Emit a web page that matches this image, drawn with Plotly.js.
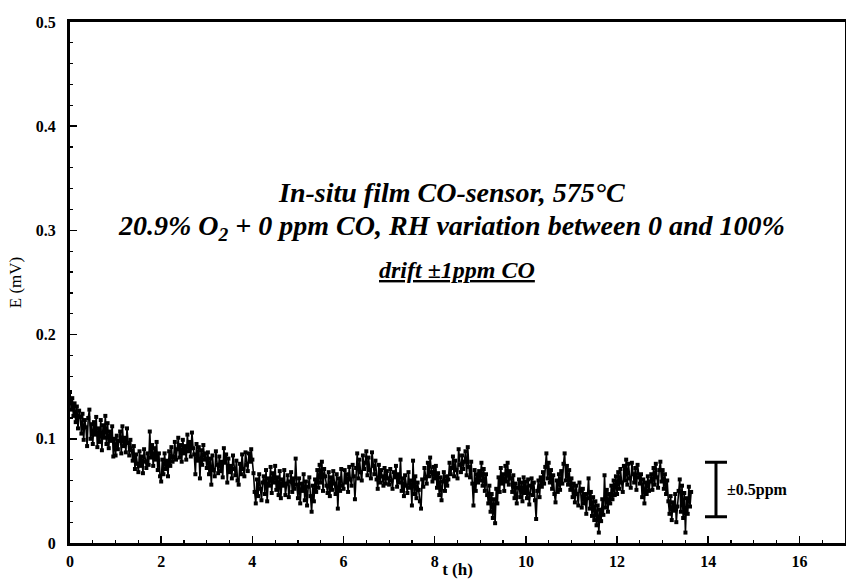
<!DOCTYPE html>
<html>
<head>
<meta charset="utf-8">
<script src="https://cdn.plot.ly/plotly-3.0.1.min.js"></script>
<style>html,body{margin:0;padding:0;background:#fff;}#chart{width:846px;height:579px;}</style>
</head>
<body>
<div id="chart"></div>
<script>
// Sampling of the recorded signal (hours)
const T_START = 0;
const T_STEP = 0.025;

// E (mV), one row per hour, 40 samples per hour
const E_h0 = [.145,.128,.139,.122,.134,.116,.131,.110,.127,.121,.105,.124,.099,.118,.111,.093,.120,.128,.100,.114,.095,.116,.104,.121,.092,.110,.097,.118,.089,.113,.101,.122,.095,.115,.091,.107,.098,.112,.083,.100];
const E_h1 = [.084,.103,.090,.098,.107,.086,.112,.093,.101,.087,.110,.096,.084,.099,.089,.079,.093,.071,.085,.076,.068,.088,.074,.083,.067,.090,.078,.072,.086,.075,.107,.082,.094,.074,.091,.080,.097,.070,.086,.064];
const E_h2 = [.059,.080,.066,.086,.071,.079,.064,.088,.074,.092,.078,.083,.097,.080,.090,.101,.082,.094,.078,.099,.086,.093,.080,.104,.088,.097,.083,.106,.091,.085,.066,.095,.079,.092,.062,.089,.075,.094,.080,.086];
const E_h3 = [.072,.087,.066,.081,.056,.084,.070,.064,.088,.075,.067,.083,.069,.078,.063,.091,.077,.085,.058,.081,.068,.074,.062,.084,.071,.065,.079,.060,.056,.076,.066,.085,.071,.064,.087,.075,.069,.086,.078,.090];
const E_h4 = [.080,.067,.049,.038,.061,.045,.066,.052,.041,.058,.064,.047,.070,.040,.062,.055,.073,.048,.067,.058,.074,.051,.063,.046,.069,.043,.061,.055,.070,.046,.057,.065,.044,.059,.068,.049,.062,.052,.081,.056];
const E_h5 = [.043,.062,.038,.057,.050,.066,.041,.059,.036,.054,.063,.045,.030,.055,.040,.061,.049,.070,.053,.075,.058,.078,.050,.071,.064,.055,.048,.068,.045,.063,.051,.069,.057,.047,.066,.033,.062,.050,.071,.055];
const E_h6 = [.052,.070,.058,.066,.049,.073,.061,.055,.075,.064,.042,.072,.086,.062,.080,.068,.060,.084,.071,.077,.088,.065,.082,.070,.062,.087,.074,.066,.079,.061,.052,.075,.058,.070,.064,.055,.072,.057,.069,.062];
const E_h7 = [.056,.071,.060,.052,.068,.063,.074,.054,.066,.058,.080,.050,.062,.045,.065,.055,.048,.068,.053,.060,.036,.079,.047,.064,.043,.058,.051,.040,.033,.061,.054,.072,.062,.057,.077,.064,.082,.068,.059,.073];
const E_h8 = [.062,.074,.053,.067,.046,.063,.041,.059,.068,.050,.064,.055,.061,.077,.066,.072,.083,.064,.079,.070,.062,.090,.075,.068,.084,.071,.078,.088,.065,.092,.073,.063,.078,.057,.036,.070,.050,.066,.058,.069];
const E_h9 = [.060,.077,.055,.071,.050,.066,.046,.038,.055,.030,.047,.024,.042,.019,.052,.038,.063,.049,.072,.057,.066,.050,.074,.059,.077,.056,.069,.062,.049,.065,.043,.057,.038,.053,.061,.044,.058,.040,.063,.048];
const E_h10 = [.059,.043,.061,.037,.055,.062,.046,.058,.041,.023,.050,.060,.044,.063,.054,.068,.057,.073,.086,.062,.077,.058,.070,.052,.065,.047,.039,.060,.049,.066,.051,.069,.057,.076,.086,.060,.074,.056,.070,.051];
const E_h11 = [.062,.044,.057,.039,.055,.047,.036,.058,.050,.034,.052,.038,.047,.028,.043,.062,.033,.049,.026,.044,.022,.040,.017,.036,.010,.032,.021,.042,.027,.065,.034,.051,.030,.047,.038,.055,.042,.060,.046,.064];
const E_h12 = [.047,.068,.052,.071,.058,.049,.074,.060,.080,.056,.076,.062,.053,.077,.066,.058,.072,.051,.075,.063,.057,.066,.044,.061,.038,.058,.047,.064,.050,.059,.066,.051,.072,.056,.076,.063,.053,.070,.078,.059];
const E_h13 = [.070,.052,.066,.047,.060,.040,.028,.045,.022,.039,.031,.047,.020,.035,.050,.061,.030,.055,.024,.048,.010,.043,.028,.054,.035,.049];

// Scale bar (±0.5 ppm)
const barX = [14.17];
const barCenter = [0.0513];
const barHalf = [0.0262];
const barLabel = '±0.5ppm';

const xTicks = [0, 2, 4, 6, 8, 10, 12, 14, 16];
const yTicks = [0, 0.1, 0.2, 0.3, 0.4, 0.5];

const E = [].concat(E_h0,E_h1,E_h2,E_h3,E_h4,E_h5,E_h6,E_h7,E_h8,E_h9,E_h10,E_h11,E_h12,E_h13);
const t = E.map((_, i) => +(T_START + i * T_STEP).toFixed(3));

const serif = 'Liberation Serif, Times New Roman, serif';

const traces = [
  {
    x: t, y: E, type: 'scatter', mode: 'lines+markers',
    line: {color: '#000', width: 1.6},
    marker: {symbol: 'square', size: 4, color: '#000'},
    hoverinfo: 'x+y', showlegend: false
  },
  {
    x: barX, y: barCenter, type: 'scatter', mode: 'markers',
    marker: {size: 1, color: 'rgba(0,0,0,0)'},
    error_y: {type: 'data', array: barHalf, visible: true, color: '#000', thickness: 3, width: 11},
    hoverinfo: 'skip', showlegend: false
  }
];

const axisCommon = {
  showline: true, linecolor: '#000', linewidth: 3, mirror: true,
  ticks: 'inside', ticklen: 7, tickwidth: 1.5, tickcolor: '#000',
  showgrid: false, zeroline: false,
  tickfont: {family: serif, size: 16, color: '#000', weight: 'bold'}
};

const layout = {
  width: 846, height: 579,
  margin: {l: 70, r: 1, t: 22, b: 36, pad: 0},
  paper_bgcolor: '#fff', plot_bgcolor: '#fff',
  showlegend: false,
  xaxis: Object.assign({}, axisCommon, {
    range: [0, 17], tickvals: xTicks, ticktext: xTicks.map(String),
    minor: {dtick: 0.5, ticks: 'inside', ticklen: 3, tickwidth: 1.2, tickcolor: '#000'},
    ticklabelstandoff: 2,
    title: {text: 't (h)', standoff: 0, font: {family: serif, size: 17, color: '#000', weight: 'bold'}}
  }),
  yaxis: Object.assign({}, axisCommon, {
    range: [0, 0.5], tickvals: yTicks, ticktext: yTicks.map(String),
    minor: {dtick: 0.02, ticks: 'inside', ticklen: 3, tickwidth: 1.2, tickcolor: '#000'},
    ticklabelstandoff: 8,
    title: {text: 'E (mV)', standoff: 10, font: {family: serif, size: 17, color: '#000'}}
  }),
  annotations: [
    {x: 8.37, y: 0.336, xref: 'x', yref: 'y', showarrow: false,
     text: '<b><i>In-situ film CO-sensor, 575°C</i></b>',
     font: {family: serif, size: 28, color: '#000'}},
    {x: 8.37, y: 0.3026, xref: 'x', yref: 'y', showarrow: false,
     text: '<b><i>20.9% O<sub>2</sub> + 0 ppm CO, RH variation between 0 and 100%</i></b>',
     font: {family: serif, size: 28, color: '#000'}},
    {x: 8.48, y: 0.262, xref: 'x', yref: 'y', showarrow: false,
     text: '<b><i><u>drift ±1ppm CO</u></i></b>',
     font: {family: serif, size: 24, color: '#000'}},
    {x: barX[0] + 0.2, y: barCenter[0], xref: 'x', yref: 'y', showarrow: false,
     xanchor: 'left', text: '<b>' + barLabel + '</b>',
     font: {family: serif, size: 16, color: '#000'}}
  ]
};

Plotly.newPlot('chart', traces, layout, {displayModeBar: false, staticPlot: true});
</script>
</body>
</html>
